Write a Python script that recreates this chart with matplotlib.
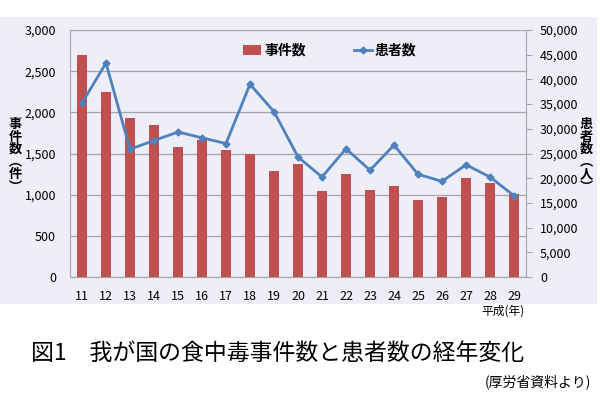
import matplotlib
matplotlib.use('Agg')
import matplotlib.pyplot as plt
from matplotlib.patches import Rectangle
from matplotlib.ticker import FuncFormatter

jp = ['Noto Sans CJK JP', 'DejaVu Sans']
plt.rcParams['font.family'] = jp

# data (平成11年 - 29年)
years = ['11', '12', '13', '14', '15', '16', '17', '18', '19', '20',
         '21', '22', '23', '24', '25', '26', '27', '28', '29']
incidents = [2697, 2247, 1928, 1850, 1585, 1666, 1545, 1491, 1289, 1369,
             1048, 1254, 1062, 1100, 931, 976, 1202, 1139, 1014]
patients = [35214, 43307, 25862, 27629, 29355, 28175, 27019, 39026, 33477, 24303,
            20249, 25972, 21616, 26699, 20802, 19355, 22718, 20252, 16464]
left_label = ['事', '件', '数', '︵', '件', '︶']
right_label = ['患', '者', '数', '︵', '人', '︶']

bar_color = '#C0504D'
line_color = '#4F81BD'
bg_color = '#EEEEF9'
grid_color = '#A6A6A6'

fig = plt.figure(figsize=(6, 3.95), dpi=100)
fig.patches.append(Rectangle((0, 1 - 304 / 395), 597 / 600, (304 - 17) / 395,
                             transform=fig.transFigure, facecolor=bg_color,
                             edgecolor='none', zorder=-10))

ax = fig.add_axes([70 / 600, 1 - 277 / 395, 456 / 600, 247 / 395])
ax.patch.set_visible(False)
x = range(len(years))
b = ax.bar(x, incidents, width=0.4, color=bar_color, label='事件数', zorder=2)
ax.set_ylim(0, 3000)
ax.set_xlim(-0.5, len(years) - 0.5)
ax.set_yticks(range(0, 3001, 500))
ax.yaxis.set_major_formatter(FuncFormatter(lambda v, p: f'{int(v):,}'))
ax.set_xticks(list(x))
ax.set_xticklabels(years)
ax.grid(axis='y', color=grid_color, linewidth=0.9, zorder=0)
ax.tick_params(axis='y', length=0, pad=10, labelsize=9, colors='black')
ax.tick_params(axis='x', length=0, pad=9, labelsize=9)
for s in ['top', 'right']:
    ax.spines[s].set_visible(False)
for s in ['left', 'bottom']:
    ax.spines[s].set_color(grid_color)

ax2 = ax.twinx()
ax2.patch.set_visible(False)
l, = ax2.plot(x, patients, color=line_color, linewidth=2, marker='D',
              markersize=3.5, label='患者数')
ax2.set_ylim(0, 50000)
ax2.set_yticks(range(0, 50001, 5000))
ax2.yaxis.set_major_formatter(FuncFormatter(lambda v, p: f'{int(v):,}'))
ax2.tick_params(axis='y', length=4, color=grid_color, pad=6, labelsize=9)
for s in ['top', 'left', 'bottom']:
    ax2.spines[s].set_visible(False)
ax2.spines['right'].set_color(grid_color)

ax.legend([b, l], ['事件数', '患者数'], ncol=2, frameon=False,
          loc='center', bbox_to_anchor=(0.57, 0.915),
          handlelength=1.3, handleheight=0.7, columnspacing=3.5,
          handletextpad=0.2, prop={'weight': 'bold', 'size': 10})

# vertical axis titles, one character per line
for i, (cl, cr) in enumerate(zip(left_label, right_label)):
    yy = 1 - (124 + i * 12.5) / 395
    fig.text(15 / 600, yy, cl, ha='center', va='center', fontsize=9.5,
             fontweight='bold')
    fig.text(586 / 600, yy, cr, ha='center', va='center', fontsize=9.5,
             fontweight='bold')

fig.text(503 / 600, 1 - 311 / 395, '平成(年)', ha='center', va='center', fontsize=8.5)
fig.text(31 / 600, 1 - 353 / 395, '図1　我が国の食中毒事件数と患者数の経年変化',
         ha='left', va='center', fontsize=16.5)
fig.text(591 / 600, 1 - 382 / 395, '(厚労省資料より)', ha='right', va='center',
         fontsize=10)

fig.savefig('out.png', dpi=100, facecolor='white')
